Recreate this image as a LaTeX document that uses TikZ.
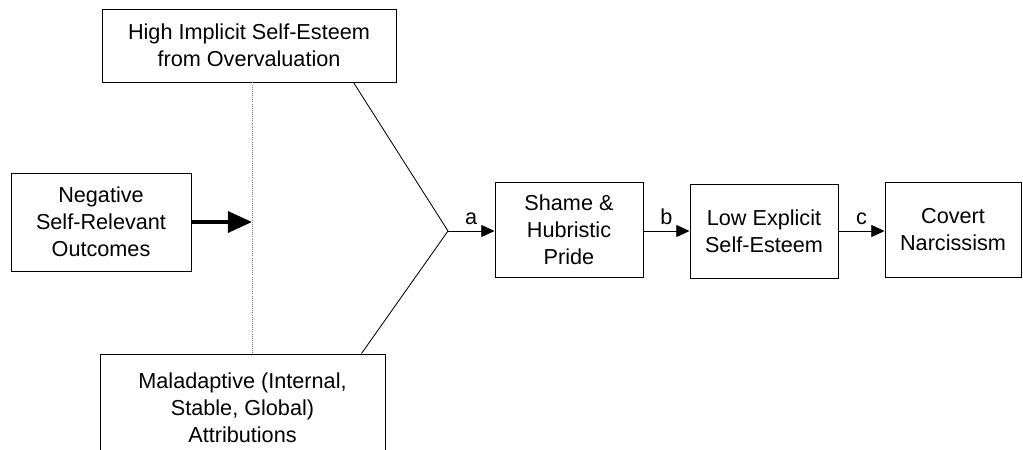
\documentclass[tikz,border=0pt]{standalone}
\usepackage{fontspec}
\setmainfont{Liberation Sans}
\usetikzlibrary{arrows.meta,calc}

\begin{document}
\begin{tikzpicture}[x=0.025cm,y=-0.025cm,
  mybox/.style={draw,line width=0.7pt,align=center,inner sep=0,font=\fontsize{15.4}{19.2}\selectfont},
  mylabel/.style={font=\fontsize{15.4}{16}\selectfont,inner sep=0,above=4pt},
  myarrow/.style={line width=0.6pt,-{Triangle[length=3.3mm,width=3mm]}}]
\useasboundingbox (0,0) rectangle (1023,449);
\node [mybox,minimum width=294*0.025cm,minimum height=73*0.025cm] (implicit) at (249,45.5) {High Implicit Self-Esteem\\from Overvaluation};
\node [mybox,minimum width=180*0.025cm,minimum height=98*0.025cm] (outcomes) at (101,222) {Negative\\Self-Relevant\\Outcomes};
\node [mybox,minimum width=285*0.025cm,minimum height=108*0.025cm] (attrib) at (242.5,408) {Maladaptive (Internal,\\Stable, Global)\\Attributions};
\node [mybox,minimum width=148*0.025cm,minimum height=95*0.025cm] (shame) at (569,229.5) {Shame \&\\Hubristic\\Pride};
\node [mybox,minimum width=148*0.025cm,minimum height=94*0.025cm] (explicit) at (764,231) {Low Explicit\\Self-Esteem};
\node [mybox,minimum width=136*0.025cm,minimum height=95*0.025cm] (covert) at (953,229.5) {Covert\\Narcissism};
\coordinate (join) at (448,231);
\coordinate (mod) at (252,222);
% moderation line
\draw [densely dotted,line width=0.5pt,gray] (implicit.south -| mod) -- (attrib.north -| mod);
\draw [line width=2.8pt,-{Triangle[length=6mm,width=5.2mm]}] (outcomes.east |- mod) -- (mod);
\draw [line width=0.6pt] ($(implicit.south east)+(-43,0)$) -- (join) -- ($(attrib.north east)+(-24,0)$);
\draw [myarrow] (join) -- node[mylabel]{a} (shame.west |- join);
\draw [myarrow] (shame.east |- join) -- node[mylabel]{b} (explicit.west |- join);
\draw [myarrow] (explicit.east |- join) -- node[mylabel]{c} (covert.west |- join);
\end{tikzpicture}
\end{document}
